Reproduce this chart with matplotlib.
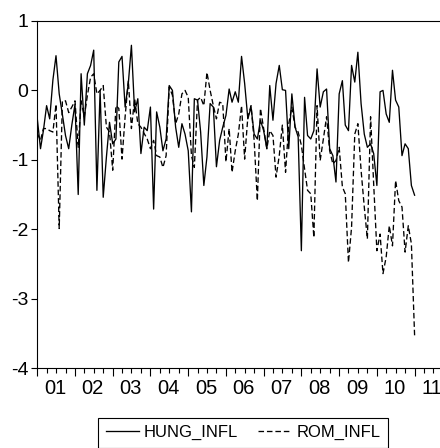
import numpy as np
import pandas as pd
import matplotlib
matplotlib.use('Agg')
import matplotlib.pyplot as plt
import matplotlib.dates as mdates

plt.rcParams.update({
    'font.family': ['Liberation Sans', 'DejaVu Sans'],
    'axes.unicode_minus': False,
})

# monthly observations, 2001M01 .. 2011M01
hung_infl = [
    -0.41, -0.84, -0.58, -0.22, -0.41, 0.15, 0.50, -0.05, -0.35, -0.65,
    -0.84, -0.50, -0.20, -1.50, 0.24, -0.50, 0.24, 0.36, 0.58, -1.44,
    0.00, -1.54, -0.96, -0.46, -0.77, -0.70, 0.41, 0.49, -0.24, 0.10,
    0.65, -0.31, -0.12, -0.91, -0.53, -0.58, -0.24, -1.71, -0.31, -0.53,
    -0.87, -0.70, 0.07, 0.00, -0.53, -0.82, -0.48, -0.63, -0.87, -1.75,
    -0.12, -0.14, -0.60, -1.37, -0.96, -0.19, -0.24, -1.10, -0.72, -0.53,
    -0.36,
    0.02, -0.17, -0.02, -0.17, 0.49, 0.10, -0.41, -0.24, -0.63, -0.70,
    -0.43, -0.58, -0.84, 0.07, -0.43, 0.10, 0.36, 0.01, 0.00, -0.84,
    -0.05, -0.53, -0.67, -2.31, -0.10, -0.65, -0.70, -0.58, 0.31, -0.24,
    -0.02, 0.02, -0.84, -0.94, -1.32, -0.05, 0.14, -0.50, -0.58, 0.36,
    0.12, 0.55, -0.19, -0.63, -0.82, -0.77, -0.91, -1.37, -0.02, 0.00,
    -0.34, -0.46, 0.29, -0.14, -0.24, -0.94, -0.77, -0.84, -1.37, -1.51,
]
rom_infl = [
    -0.62, -0.72, -0.55, -0.55, -0.58, -0.60, -0.20, -1.99, -0.15, -0.15,
    -0.32, -0.24, -0.15, -0.82, -0.15, -0.38, -0.07, 0.19, 0.24, -0.05,
    0.00, 0.07, -0.53, -0.60, -1.15, -0.22, -0.26, -0.99, -0.38, 0.14,
    -0.55, -0.12, -0.48, -0.53, -0.62, -0.70, -0.84, -0.72, -0.94, -0.96,
    -1.11, -0.94, 0.05, -0.07, -0.48, -0.34, -0.05, 0.00, -0.10, -0.94,
    -1.11, -0.14, -0.10, -0.22, 0.26, 0.00, -0.22, -0.41, -0.17, -0.19,
    -1.03,
    -0.55, -1.18, -0.87, -0.63, -0.22, -0.99, -0.38, -0.22, -0.72, -1.59,
    -0.26, -0.55, -0.84, -0.58, -0.65, -1.25, -0.94, -0.50, -1.18, -0.48,
    -0.24, -0.53, -0.60, -0.79, -1.13, -1.44, -1.49, -2.12, -0.22, -1.01,
    -0.70, -0.38, -0.87, -1.06, -1.01, -0.82, -1.39, -1.49, -2.48, -1.97,
    -0.63, -0.48, -1.15, -1.68, -2.14, -0.38, -1.35, -2.31, -2.07, -2.64,
    -2.40, -1.95, -2.24, -1.30, -1.59, -1.68, -2.33, -1.95, -2.21, -3.53,
]
year_labels = ['01', '02', '03', '04', '05', '06', '07', '08', '09', '10', '11']
y_ticks = [1, 0, -1, -2, -3, -4]

dates = pd.date_range('2001-01-01', periods=len(hung_infl), freq='MS')

fig = plt.figure(figsize=(4.4, 4.48), dpi=100)
# axes run past the right edge of the picture, as in the original export
ax = fig.add_axes([37.3 / 440, 80 / 448, 415 / 440, 347 / 448])

ax.plot(dates, hung_infl, color='black', lw=0.95, label='HUNG_INFL')
ax.plot(dates, rom_infl, color='black', lw=0.95, dashes=(4.2, 2.2), label='ROM_INFL')

ax.set_xlim(pd.Timestamp('2001-01-01'), pd.Timestamp('2012-01-01'))
ax.set_ylim(-4, 1)
ax.set_yticks(y_ticks)
ax.set_yticklabels([str(t) for t in y_ticks], fontsize=14)

ax.xaxis.set_major_locator(mdates.YearLocator())
ax.xaxis.set_minor_locator(mdates.MonthLocator(bymonth=[4, 7, 10]))
ax.xaxis.set_major_formatter(plt.NullFormatter())
ax.tick_params(axis='x', which='major', length=5.8, width=0.8, direction='out')
ax.tick_params(axis='x', which='minor', length=3.6, width=0.8, direction='out')
ax.tick_params(axis='y', length=4.3, width=0.8, direction='out', pad=2)

for k, lab in enumerate(year_labels):
    mid = pd.Timestamp(f'{2001 + k}-06-22')
    ax.annotate(lab, xy=(mdates.date2num(mid), 0), xycoords=('data', 'axes fraction'),
                xytext=(0, -11), textcoords='offset pixels',
                ha='center', va='top', fontsize=14.5, annotation_clip=False)

for side in ['left', 'bottom', 'top']:
    ax.spines[side].set_linewidth(0.8)
ax.spines['right'].set_visible(False)

leg = fig.legend(loc='upper center', bbox_to_anchor=(243 / 440, 1 - 417.5 / 448),
                 ncol=2, fontsize=12, frameon=True, fancybox=False,
                 edgecolor='black', framealpha=1, handlelength=2.0,
                 columnspacing=1.2, handletextpad=0.3, borderpad=0.45,
                 borderaxespad=0)
leg.get_frame().set_linewidth(0.8)

fig.savefig('out.png', dpi=100)
